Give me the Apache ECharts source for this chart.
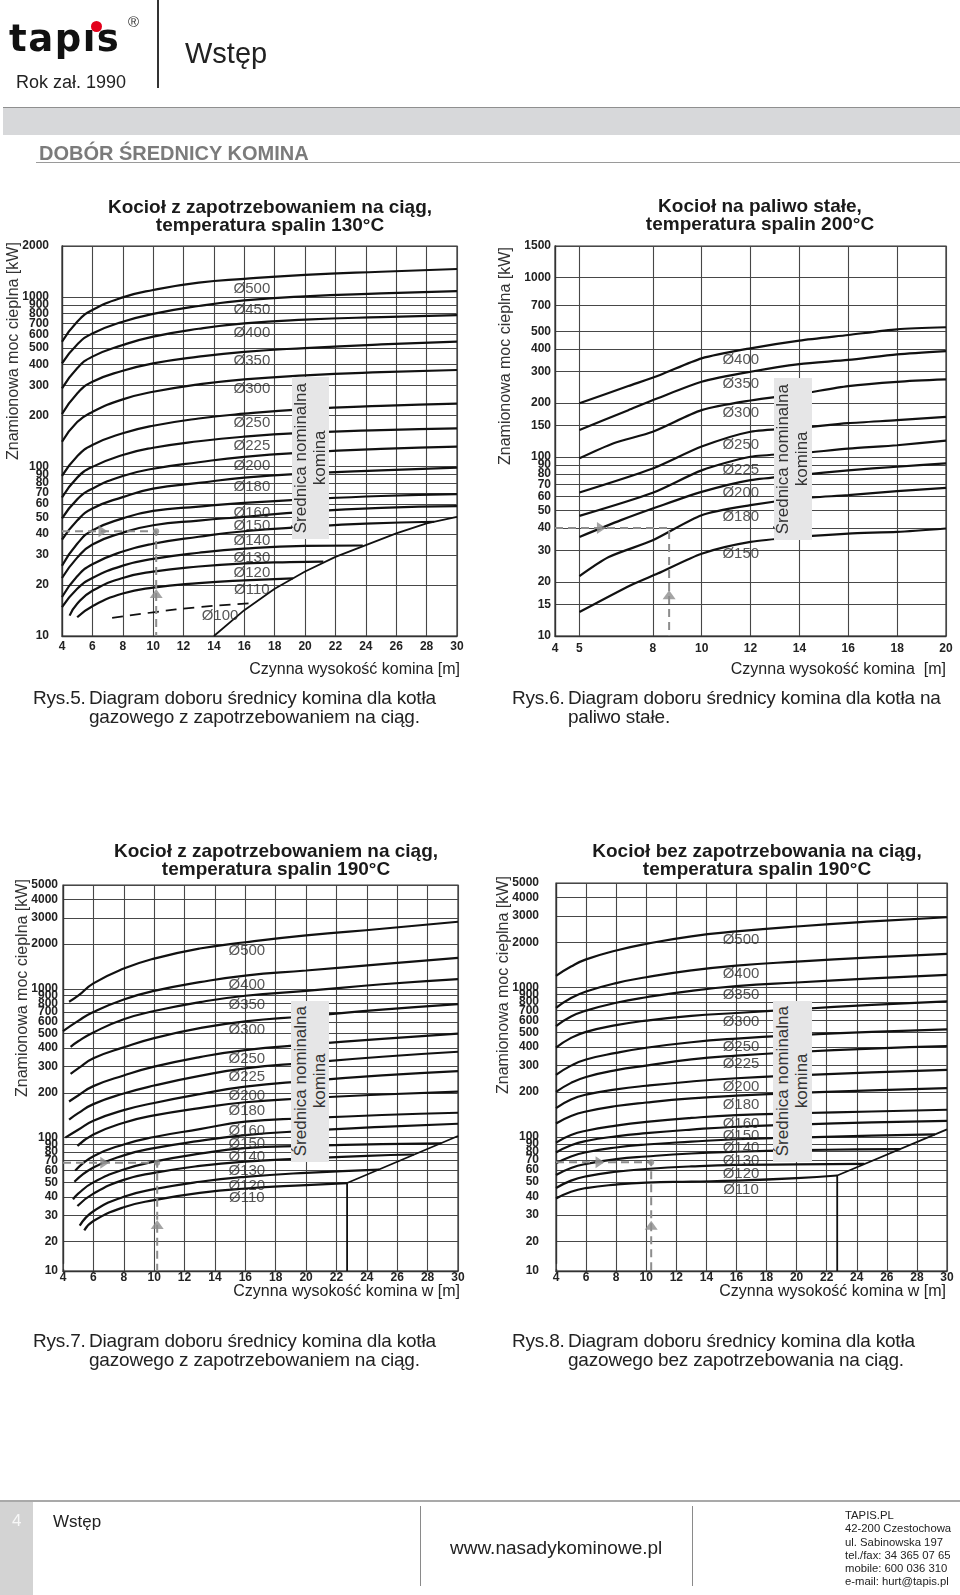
<!DOCTYPE html>
<html lang="pl">
<head>
<meta charset="utf-8">
<title>Dobór średnicy komina</title>
<script src="https://cdn.jsdelivr.net/npm/echarts@6.0.0/dist/echarts.min.js"></script>
<style>
html,body{margin:0;padding:0;background:#fff;}
#page{position:relative;width:960px;height:1595px;overflow:hidden;font-family:'Liberation Sans',Arial,Helvetica,sans-serif;color:#222;}
#chart{position:absolute;left:0;top:0;width:960px;height:1595px;z-index:1;}
.a{position:absolute;white-space:pre;z-index:2;}
.title{font-weight:bold;font-size:19px;text-align:center;width:520px;line-height:18.3px;color:#1a1a1a;}
.vert{writing-mode:vertical-rl;transform:rotate(180deg);text-align:center;}
.yname{font-size:16px;color:#333;width:20px;height:260px;line-height:20px;}
.box{background:#e6e6e7;display:flex;align-items:center;justify-content:center;}
.box span{font-size:17px;line-height:18.5px;color:#333;white-space:pre;}
.xname{font-size:16px;color:#222;text-align:right;width:300px;line-height:18px;}
.cap{font-size:19px;color:#222;line-height:19px;display:flex;letter-spacing:-0.2px;}
.cap .n{display:inline-block;width:56px;}
.foot{font-size:11.3px;line-height:13.3px;color:#222;}
</style>
</head>
<body>
<div id="page">
  <div id="chart"></div>

  <!-- header -->
  <div class="a" style="left:9px;top:20px;font:bold 37px 'DejaVu Sans',sans-serif;letter-spacing:1.5px;line-height:37px;color:#111">tapıs</div>
  <div class="a" style="left:91px;top:21px;width:11px;height:11px;border-radius:50%;background:#e3001b"></div>
  <div class="a" style="left:128px;top:13px;font-size:15px;color:#333">®</div>
  <div class="a" style="left:16px;top:72px;font-size:18px;line-height:20px;color:#222">Rok zał. 1990</div>
  <div class="a" style="left:157px;top:0;width:1.5px;height:88px;background:#333"></div>
  <div class="a" style="left:185px;top:36px;font-size:29px;line-height:34px;color:#222">Wstęp</div>
  <div class="a" style="left:3px;top:107px;width:957px;height:27px;background:#d7d8da;border-top:1.5px solid #8f8f8f"></div>
  <div class="a" style="left:39px;top:142px;font-weight:bold;font-size:20px;line-height:22px;color:#7b7b7b">DOBÓR ŚREDNICY KOMINA</div>
  <div class="a" style="left:36px;top:161.5px;width:924px;height:1.5px;background:#9a9a9a"></div>

  <!-- chart titles -->
  <div class="a title" style="left:10px;top:197.5px">Kocioł z zapotrzebowaniem na ciąg,
temperatura spalin 130°C</div>
  <div class="a title" style="left:500px;top:197px">Kocioł na paliwo stałe,
temperatura spalin 200°C</div>
  <div class="a title" style="left:16px;top:841.5px">Kocioł z zapotrzebowaniem na ciąg,
temperatura spalin 190°C</div>
  <div class="a title" style="left:497px;top:841.5px">Kocioł bez zapotrzebowania na ciąg,
temperatura spalin 190°C</div>

  <!-- y axis names -->
  <div class="a yname vert" style="left:3.3px;top:220.7px">Znamionowa moc cieplna [kW]</div>
  <div class="a yname vert" style="left:495px;top:225.8px">Znamionowa moc cieplna [kW]</div>
  <div class="a yname vert" style="left:11.7px;top:857.5px">Znamionowa moc cieplna [kW]</div>
  <div class="a yname vert" style="left:492.7px;top:855px">Znamionowa moc cieplna [kW]</div>

  <!-- diameter boxes -->
  <div class="a box" style="left:291.7px;top:377.3px;width:37.6px;height:162px"><span class="vert">Średnica nominalna
komina</span></div>
  <div class="a box" style="left:774px;top:377.7px;width:37.7px;height:162.3px"><span class="vert">Średnica nominalna
komina</span></div>
  <div class="a box" style="left:291px;top:1001px;width:38.3px;height:160.7px"><span class="vert">Średnica nominalna
komina</span></div>
  <div class="a box" style="left:773.3px;top:1001px;width:38.4px;height:160.7px"><span class="vert">Średnica nominalna
komina</span></div>

  <!-- x axis names -->
  <div class="a xname" style="left:160px;top:660px">Czynna wysokość komina [m]</div>
  <div class="a xname" style="left:646px;top:660px">Czynna wysokość komina  [m]</div>
  <div class="a xname" style="left:160px;top:1282px">Czynna wysokość komina w [m]</div>
  <div class="a xname" style="left:646px;top:1282px">Czynna wysokość komina w [m]</div>

  <!-- captions -->
  <div class="a cap" style="left:33px;top:687.5px"><span class="n">Rys.5.</span><span>Diagram doboru średnicy komina dla kotła
gazowego z zapotrzebowaniem na ciąg.</span></div>
  <div class="a cap" style="left:512px;top:687.5px"><span class="n">Rys.6.</span><span>Diagram doboru średnicy komina dla kotła na
paliwo stałe.</span></div>
  <div class="a cap" style="left:33px;top:1330.5px"><span class="n">Rys.7.</span><span>Diagram doboru średnicy komina dla kotła
gazowego z zapotrzebowaniem na ciąg.</span></div>
  <div class="a cap" style="left:512px;top:1330.5px"><span class="n">Rys.8.</span><span>Diagram doboru średnicy komina dla kotła
gazowego bez zapotrzebowania na ciąg.</span></div>

  <!-- footer -->
  <div class="a" style="left:0;top:1500px;width:960px;height:2px;background:#a9a9a9"></div>
  <div class="a" style="left:0;top:1502px;width:33px;height:93px;background:#d3d3d3"></div>
  <div class="a" style="left:12px;top:1511px;font-size:17px;line-height:20px;color:#f7f7f7">4</div>
  <div class="a" style="left:53px;top:1512px;font-size:17px;line-height:20px;color:#222">Wstęp</div>
  <div class="a" style="left:420px;top:1506px;width:1px;height:80px;background:#8a8a8a"></div>
  <div class="a" style="left:692px;top:1506px;width:1px;height:80px;background:#8a8a8a"></div>
  <div class="a" style="left:450px;top:1537px;width:200px;text-align:center;font-size:19px;line-height:22px;color:#222">www.nasadykominowe.pl</div>
  <div class="a foot" style="left:845px;top:1509px">TAPIS.PL
42-200 Czestochowa
ul. Sabinowska 197
tel./fax: 34 365 07 65
mobile: 600 036 310
e-mail: hurt@tapis.pl</div>
</div>

<script>
// ---------------- DATA ----------------
// Chart 1 (Rys.5) – gas boiler with draught demand, flue gas 130°C
const c1YTicks = [10,20,30,40,50,60,70,80,90,100,200,300,400,500,600,700,800,900,1000,2000];
const c1_500 = [[4,545],[5,715],[6,838],[8,995],[10,1100],[13,1215],[16,1280],[20,1350],[25,1410],[30,1463]];
const c1_450 = [[4,406],[5,525],[6,610],[8,714],[10,795],[13,885],[16,955],[20,1010],[25,1050],[30,1084]];
const c1_400 = [[4,289],[5,380],[6,445],[8,521],[10,584],[13,650],[16,699],[20,735],[25,762],[30,783]];
const c1_350 = [[4,204],[5,270],[6,316],[8,367],[10,406],[13,445],[16,475],[20,500],[25,525],[30,545]];
const c1_300 = [[4,140],[5,183],[6,210],[8,249],[10,276],[13,305],[16,327],[20,345],[25,360],[30,371]];
const c1_250 = [[4,88],[5,115],[6,134],[8,157],[10,174],[13,192],[16,205],[20,218],[25,228],[30,235]];
const c1_225 = [[4,65.6],[5,86],[6,99.5],[8,117],[10,129],[13,141],[16,150],[20,158],[25,164],[30,168]];
const c1_200 = [[4,49.4],[5,64],[6,74],[8,88],[10,97],[13,106],[16,114],[20,121],[25,127],[30,131]];
const c1_180 = [[4,37],[5,48],[6,56.5],[8,66],[10,74],[13,80],[16,86],[20,91],[25,95],[30,98.6]];
const c1_160 = [[4,26],[5,35],[6,42],[8,49.4],[10,54.7],[13,58],[16,61],[20,64],[25,67],[30,68.7]];
const c1_150 = [[4,22],[5,29],[6,34.7],[8,40.7],[10,45],[13,48],[16,50.5],[20,54],[25,57],[30,58.4]];
const c1_140 = [[4,17],[5,22.5],[6,26.5],[8,31.5],[10,35],[13,38.5],[16,41.5],[20,44],[24,46],[28.5,47.2]];
const c1_130 = [[4,14.8],[5,19],[6,22],[8,26],[10,28.5],[13,31],[16,32.8],[20,34],[23.8,34.2]];
const c1_120 = [[4.5,13.2],[5,15.5],[6,18.5],[8,22],[10,24],[13,25.7],[16,26.8],[19,27.3],[21.2,27.5]];
const c1_110 = [[5,12.9],[6,15],[8,17.8],[10,19.3],[13,20.5],[16,21.3],[19.2,21.9]];
const c1_100 = [[7.3,12.8],[10,13.8],[13,14.8],[16.4,15.6]];
const c1Limit = [[14,10],[16,14.2],[18,19],[20,24],[22,29.3],[24,34.4],[26,40.3],[28,46.2],[30,50.5]];
const c1Guide = [[4,41.5],[10.2,41.5],[10.2,10]];
const c1ArrowRight = [6.7,41.5], c1ArrowUp = [10.2,17.8], c1Dot = [10.2,41.5];

// Chart 2 (Rys.6) – solid fuel boiler, flue gas 200°C
const c2XTicks = [4,5,8,10,12,14,16,18,20];
const c2YTicks = [10,15,20,30,40,50,60,70,80,90,100,150,200,300,400,500,700,1000,1500];
const c2_400 = [[5,199],[7,248],[8.3,286],[10,354],[12,403],[14,445],[16,478],[18,514],[20,528]];
const c2_350 = [[5,141],[7,182],[8.2,212],[10,262],[12,298],[14,329],[16,347],[18,373],[20,389]];
const c2_300 = [[5,98],[6.4,119],[8,138],[10,182],[12,206],[14,224],[16,248],[18,262],[20,270]];
const c2_250 = [[5,63.2],[8,86],[10,114],[12,138],[14,145],[16,154],[18,160],[20,167]];
const c2_225 = [[5,46.8],[8,63],[10,84],[12,100],[14,104.5],[16,111],[18,116],[20,123]];
const c2_200 = [[5,35.7],[6.7,44.3],[8.2,52.6],[10,63.7],[12,74.1],[14,79],[16,84],[18,88],[20,91.8]];
const c2_180 = [[5,21.6],[6.2,27.6],[8,34.2],[10,47.2],[12,53.7],[14,58.5],[16,61.1],[18,64.3],[20,67.1]];
const c2_150 = [[5,13.6],[7.1,19.2],[8.2,22.3],[10,28.8],[12,33.5],[14,35.7],[16,37.3],[18,38.1],[20,39.8]];
const c2Guide = [[4,40],[8.67,40],[8.67,10]];
const c2ArrowRight = [5.9,40], c2ArrowUp = [8.67,17];

// Chart 3 (Rys.7) – gas boiler with draught demand, flue gas 190°C
const c34YTicks = [10,20,30,40,50,60,70,80,90,100,200,300,400,500,600,700,800,900,1000,2000,3000,4000,5000];
const c3_500 = [[4.4,820],[5,900],[6,1090],[8,1370],[10,1600],[13,1870],[16,2060],[20,2290],[25,2540],[30,2830]];
const c3_400 = [[4,520],[5,610],[6,700],[8,850],[10,970],[13,1110],[16,1230],[20,1330],[25,1470],[30,1620]];
const c3_350 = [[4.5,408],[5,445],[6,510],[8,625],[10,710],[13,815],[16,900],[20,970],[25,1075],[30,1165]];
const c3_300 = [[4.5,268],[5,292],[6,342],[8,405],[10,467],[13,545],[16,605],[20,655],[25,725],[30,790]];
const c3_250 = [[4.4,175],[5,192],[6,222],[8,262],[10,300],[13,348],[16,388],[20,422],[25,462],[30,500]];
const c3_225 = [[4.4,132],[5,146],[6,168],[8,198],[10,224],[13,260],[16,292],[20,318],[25,350],[30,378]];
const c3_200 = [[4.15,100],[5,113],[6,130],[8,153],[10,171],[13,196],[16,220],[20,240],[25,262],[30,280]];
const c3_180 = [[4.95,88],[6,105],[8,126],[10,141],[13,158],[16,173],[20,184],[25,195],[30,204]];
const c3_160 = [[4.8,60],[6,75],[8,90],[10,101],[13,114],[16,128],[20,135],[25,142],[30,147]];
const c3_150 = [[4.75,50.5],[6,63],[8,76],[10,85],[13,95],[16,104],[20,111],[25,118],[30,124]];
const c3_140 = [[4.66,38.4],[5,42],[6,50],[8,61],[10,69],[13,78],[16,85],[20,88],[25,90.5],[28.9,91.6]];
const c3_130 = [[4.95,34.7],[6,42],[8,52],[10,58],[13,64.5],[16,69],[20,72.5],[24,75.5],[27.1,77]];
const c3_120 = [[5.1,25.6],[6,32],[8,40],[10,45],[13,50.5],[16,54.5],[20,58],[24.8,61]];
const c3_110 = [[5.4,23.8],[6,27.5],[8,34],[10,38],[13,42.5],[16,45.5],[20,48],[22.7,49.5]];
const c3Limit = [[22.7,10],[22.7,49.5],[30,102.6]];
const c3Guide = [[4,67.7],[10.2,67.7],[10.2,10]];
const c3ArrowRight = [6.75,67.7], c3ArrowUp = [10.2,26], c3Dot = [10.2,67.7];

// Chart 4 (Rys.8) – gas boiler without draught demand, flue gas 190°C
const c4_500 = [[4,1195],[5,1380],[6,1541],[8,1766],[10,1955],[13,2200],[16,2371],[20,2559],[25,2765],[30,2951]];
const c4_400 = [[4,730],[5,850],[6,940],[8,1070],[10,1170],[13,1300],[16,1400],[20,1490],[25,1590],[30,1680]];
const c4_350 = [[4,552],[5,640],[6,700],[8,790],[10,860],[13,950],[16,1020],[20,1080],[25,1150],[30,1213]];
const c4_300 = [[4,396],[5,460],[6,505],[8,560],[10,600],[13,645],[16,675],[20,715],[25,765],[30,808]];
const c4_250 = [[4,260],[5,300],[6,330],[8,365],[10,395],[13,430],[16,455],[20,480],[25,505],[30,525]];
const c4_225 = [[4,200],[5,230],[6,252],[8,280],[10,300],[13,330],[16,350],[20,370],[25,390],[30,405]];
const c4_200 = [[4,156],[5,178],[6,192],[8,208],[10,220],[13,235],[16,247],[20,258],[25,270],[30,281]];
const c4_180 = [[4,123],[5,138],[6,148],[8,161],[10,170],[13,181],[16,189],[20,197],[25,205],[30,212]];
const c4_160 = [[4,91.7],[5,103],[6,110],[8,119],[10,126],[13,134],[16,140],[20,144],[25,148],[30,152]];
const c4_150 = [[4,78.7],[5,88],[6,94],[8,101],[10,106],[13,112],[16,117],[20,121],[25,125],[30,128]];
const c4_140 = [[4,66.6],[5,74],[6,79],[8,85],[10,89],[13,93],[16,96.5],[20,99],[25,102],[29.2,104]];
const c4_130 = [[4,55.7],[5,62],[6,66],[8,71],[10,74],[13,77.5],[16,79.6],[20,81.5],[24,82.5],[26.9,83]];
const c4_120 = [[4,45.5],[5,51],[6,54.5],[8,58.5],[10,61],[13,63.5],[16,65],[20,65.5],[24.5,66]];
const c4_110 = [[4,38.7],[5,43],[6,45.5],[8,48],[10,49.5],[13,50.3],[16,51],[20,53],[22.7,55.2]];
const c4Limit = [[22.7,10],[22.7,55.2],[30,112.4]];
const c4Guide = [[4,67.6],[10.33,67.6],[10.33,10]];
const c4ArrowRight = [6.93,67.6], c4ArrowUp = [10.33,25.7], c4Dot = [10.33,67.6];

// diameter names per chart
const c1Names = ['500','450','400','350','300','250','225','200','180','160','150','140','130','120','110'];
const c2Names = ['400','350','300','250','225','200','180','150'];
const c34Names = ['500','400','350','300','250','225','200','180','160','150','140','130','120','110'];

// ---------------- BUILD ----------------
const FONT = "'Liberation Sans', Arial, Helvetica, sans-serif";
const GRID_LINE = {show:true, lineStyle:{color:'#474747', width:1.1}};
const AXIS_LINE = {show:true, lineStyle:{color:'#333', width:1.3}};

function at(curve, x){
  for (let i = 0; i < curve.length - 1; i++) {
    const a = curve[i], b = curve[i+1];
    if (x >= a[0] && x <= b[0]) {
      const t = (x - a[0]) / (b[0] - a[0]);
      return Math.pow(10, Math.log10(a[1]) + t * (Math.log10(b[1]) - Math.log10(a[1])));
    }
  }
  return curve[curve.length-1][1];
}
function lbl(margin){
  return {margin, fontFamily:FONT, fontWeight:'bold', fontSize:12, color:'#222',
          formatter: v => String(Math.round(v))};
}
function xAxisOf(gi, min, max, margin, ticks){
  const ax = {type:'value', gridIndex:gi, min, max, axisLine:AXIS_LINE,
    axisTick:{show:false}, axisLabel:lbl(margin), splitLine:GRID_LINE};
  if (ticks) { ax.axisTick.customValues = ticks; ax.axisLabel.customValues = ticks; }
  else ax.interval = 2;
  return ax;
}
function yAxisOf(gi, min, max, margin, ticks, withBreak){
  const ax = {type:'log', logBase:10, gridIndex:gi, min, max, axisLine:AXIS_LINE,
    axisTick:{show:false, customValues:ticks},
    axisLabel:Object.assign(lbl(margin), {customValues:ticks}),
    splitLine:GRID_LINE, minorTick:{show:false}, minorSplitLine:{show:false}};
  if (withBreak) {
    ax.breaks = [{start:10.2, end:14.2, gap:1}];
    ax.breakArea = {show:false};
  }
  return ax;
}
function curve(gi, data, dashed, smooth){
  return {type:'line', xAxisIndex:gi, yAxisIndex:gi, data, symbol:'none', showSymbol:false,
    smooth: smooth === undefined ? 0.5 : smooth, silent:true, z:3,
    lineStyle:{color:'#111', width: dashed ? 1.7 : 2.2, type: dashed ? [11,7] : 'solid'}};
}
function straight(gi, data, color, width, type){
  return {type:'line', xAxisIndex:gi, yAxisIndex:gi, data, symbol:'none', showSymbol:false,
    smooth:false, silent:true, z:4, lineStyle:{color, width, type}};
}
function labels(gi, items, dist){
  return {type:'scatter', xAxisIndex:gi, yAxisIndex:gi, symbolSize:1, silent:true, z:5,
    itemStyle:{color:'rgba(0,0,0,0)'},
    label:{show:true, position:'bottom', distance:dist, formatter: p => p.name,
           fontFamily:FONT, fontSize:15, color:'#2b2b2b'},
    data: items};
}
function markers(gi, right, up, dot){
  const col = '#8d8d8d';
  const d = [{value:right, symbol:'triangle', symbolSize:[12,9], symbolRotate:-90},
             {value:up, symbol:'triangle', symbolSize:[13,9], symbolRotate:0}];
  if (dot) d.push({value:dot, symbol:'circle', symbolSize:6, symbolRotate:0});
  return {type:'scatter', xAxisIndex:gi, yAxisIndex:gi, silent:true, z:6,
    itemStyle:{color:col}, data:d};
}
function labelItems(curves, names, x){
  return curves.map((c, i) => ({name:'Ø' + names[i], value:[x, at(c, x)]}));
}

function build(withBreak){
  const c1 = [c1_500,c1_450,c1_400,c1_350,c1_300,c1_250,c1_225,c1_200,c1_180,c1_160,c1_150,c1_140,c1_130,c1_120,c1_110];
  const c2 = [c2_400,c2_350,c2_300,c2_250,c2_225,c2_200,c2_180,c2_150];
  const c3 = [c3_500,c3_400,c3_350,c3_300,c3_250,c3_225,c3_200,c3_180,c3_160,c3_150,c3_140,c3_130,c3_120,c3_110];
  const c4 = [c4_500,c4_400,c4_350,c4_300,c4_250,c4_225,c4_200,c4_180,c4_160,c4_150,c4_140,c4_130,c4_120,c4_110];
  const series = [];
  c1.forEach(d => series.push(curve(0, d)));
  series.push(curve(0, c1_100, true));
  series.push(straight(0, c1Limit, '#111', 1.8, 'solid'));
  series.push(straight(0, c1Guide, '#8d8d8d', 2, [8,5]));
  series.push(markers(0, c1ArrowRight, c1ArrowUp, c1Dot));
  const l1 = labelItems(c1, c1Names, 16.5);
  l1.push({name:'Ø100', value:[14.4, at(c1_100, 14.4)]});
  series.push(labels(0, l1, 2));

  c2.forEach(d => series.push(curve(1, d, false, 0.25)));
  series.push(straight(1, c2Guide, '#8d8d8d', 2, [8,5]));
  series.push(markers(1, c2ArrowRight, c2ArrowUp, null));
  series.push(labels(1, labelItems(c2, c2Names, 11.6), 2));

  c3.forEach(d => series.push(curve(2, d)));
  series.push(straight(2, c3Limit, '#111', 1.8, 'solid'));
  series.push(straight(2, c3Guide, '#8d8d8d', 2, [8,5]));
  series.push(markers(2, c3ArrowRight, c3ArrowUp, c3Dot));
  series.push(labels(2, labelItems(c3, c34Names, 16.1), 1));

  c4.forEach(d => series.push(curve(3, d)));
  series.push(straight(3, c4Limit, '#111', 1.8, 'solid'));
  series.push(straight(3, c4Guide, '#8d8d8d', 2, [8,5]));
  series.push(markers(3, c4ArrowRight, c4ArrowUp, c4Dot));
  series.push(labels(3, labelItems(c4, c34Names, 16.3), 1));

  const gridBase = {show:true, borderColor:'#333', borderWidth:1.2, backgroundColor:'transparent',
                    containLabel:false, outerBoundsMode:'none'};
  return {
    animation:false,
    backgroundColor:'transparent',
    grid:[
      Object.assign({left:62, top:246, width:395, height:390}, gridBase),
      Object.assign({left:555, top:246, width:391, height:390}, gridBase),
      Object.assign({left:63, top:885, width:395, height:386}, gridBase),
      Object.assign({left:556, top:883, width:391, height:388}, gridBase)
    ],
    xAxis:[
      xAxisOf(0, 4, 30, 5),
      xAxisOf(1, 4, 20, 7, c2XTicks),
      xAxisOf(2, 4, 30, 1),
      xAxisOf(3, 4, 30, 1)
    ],
    yAxis:[
      yAxisOf(0, 10, 2000, 13, c1YTicks, false),
      yAxisOf(1, 10, 1500, 4, c2YTicks, false),
      yAxisOf(2, 10, 5000, 5, c34YTicks, withBreak),
      yAxisOf(3, 10, 5000, 17, c34YTicks, withBreak)
    ],
    series
  };
}

const chart = echarts.init(document.getElementById('chart'), null, {renderer:'canvas'});
try {
  chart.setOption(build(true));
} catch (e) {
  console.error('break option failed', e);
  chart.clear();
  chart.setOption(build(false), true);
}
</script>
</body>
</html>
